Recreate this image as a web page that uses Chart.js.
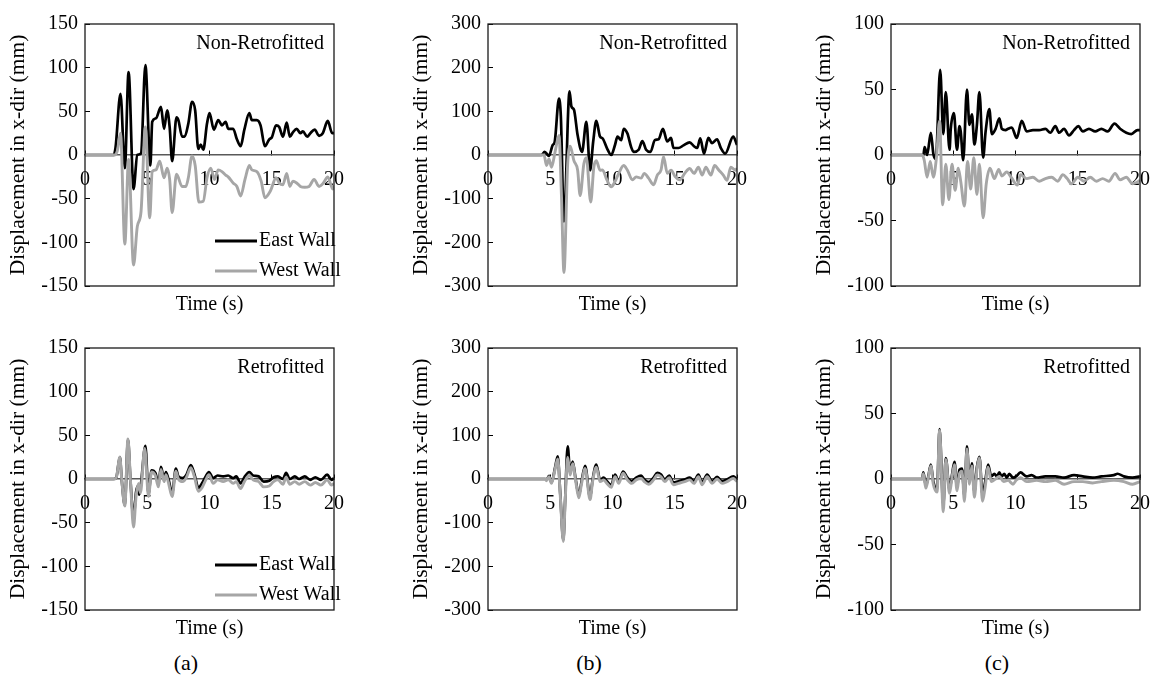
<!DOCTYPE html>
<html>
<head>
<meta charset="utf-8">
<script src="https://cdn.jsdelivr.net/npm/chart.js@4.4.1/dist/chart.umd.min.js"></script>
<style>
  body { margin: 0; background: #fff; }
  .wrap { position: relative; width: 1174px; height: 679px; overflow: hidden; font-family: "Liberation Serif", "Times New Roman", serif; }
  canvas { position: absolute; }
  .cap { position: absolute; top: 650px; width: 60px; font-size: 22px; line-height: 26px; text-align: center; color: #000; }
</style>
</head>
<body>
<div class="wrap">
  <canvas id="aTop" width="362" height="320" style="left:0px;top:0px"></canvas>
  <canvas id="bTop" width="362" height="320" style="left:403px;top:0px"></canvas>
  <canvas id="cTop" width="362" height="320" style="left:806px;top:0px"></canvas>
  <canvas id="aBot" width="362" height="320" style="left:0px;top:324px"></canvas>
  <canvas id="bBot" width="362" height="320" style="left:403px;top:324px"></canvas>
  <canvas id="cBot" width="362" height="320" style="left:806px;top:324px"></canvas>
  <div class="cap" style="left:156px">(a)</div>
  <div class="cap" style="left:559px">(b)</div>
  <div class="cap" style="left:967px">(c)</div>
</div>
<script>
// [time (s), displacement (mm)]
const aNonEast = [[0,0],[2.3,0],[2.45,8],[2.85,70],[3.2,-15],[3.5,95],[3.9,-39],[4.2,0],[4.5,2],[4.85,103],[5.25,-12],[5.4,38],[5.7,42],[6.1,55],[6.35,30],[6.6,51],[6.8,32],[7.0,-7],[7.35,43],[7.5,40],[7.8,21],[8.0,21],[8.3,36],[8.6,61],[8.85,51],[9.1,7],[9.3,12],[9.5,6],[9.8,36],[10.0,48],[10.35,29],[10.7,40],[11.0,34],[11.3,38],[11.5,30],[11.9,30],[12.2,18],[12.5,10],[12.8,29],[13.2,48],[13.4,40],[13.8,40],[14.1,34],[14.45,10],[14.8,18],[15.0,20],[15.35,34],[15.6,32],[15.9,21],[16.2,37],[16.45,21],[16.7,26],[17.0,30],[17.3,25],[17.5,27],[17.85,21],[18.1,25],[18.45,29],[18.8,22],[19.1,25],[19.5,39],[19.85,25],[20,25]];
const aNonWest = [[0,0],[2.4,0],[2.6,5],[2.85,25],[3.2,-102],[3.5,-5],[3.9,-126],[4.2,-82],[4.5,-65],[4.85,32],[5.2,-72],[5.4,-19],[5.7,-17],[6.0,-7],[6.35,-26],[6.6,-15],[6.8,-28],[7.0,-66],[7.35,-22],[7.8,-36],[8.1,-36],[8.3,-26],[8.6,-1],[8.85,-12],[9.15,-54],[9.5,-53],[9.8,-26],[10.1,-15],[10.4,-28],[10.7,-17],[11.0,-19],[11.3,-23],[11.5,-25],[11.9,-32],[12.2,-36],[12.5,-47],[12.85,-28],[13.2,-12],[13.4,-17],[13.8,-19],[14.15,-30],[14.45,-49],[14.9,-41],[15.35,-26],[15.6,-32],[15.9,-34],[16.2,-21],[16.45,-36],[16.7,-30],[17.0,-32],[17.3,-36],[17.65,-37],[18.0,-36],[18.4,-28],[18.8,-36],[19.15,-32],[19.5,-25],[19.9,-39],[20,-35]];
const bNonEast = [[0,0],[4.3,0],[4.55,7],[4.9,-2],[5.2,23],[5.35,29],[5.7,129],[5.85,89],[6.1,-152],[6.55,146],[6.7,111],[6.9,104],[7.2,45],[7.55,7],[7.9,76],[8.2,-35],[8.45,31],[8.7,78],[9.0,42],[9.2,38],[9.55,16],[9.9,0],[10.2,23],[10.4,42],[10.7,34],[10.9,60],[11.2,49],[11.5,18],[11.7,7],[12.1,12],[12.4,32],[12.7,12],[13.05,7],[13.4,34],[13.7,36],[14.05,60],[14.4,31],[14.7,39],[14.9,16],[15.3,16],[15.7,22],[16.2,29],[16.55,20],[16.8,16],[17.05,38],[17.35,3],[17.7,39],[18.0,27],[18.4,36],[18.7,16],[19.05,3],[19.7,42],[20,23]];
const bNonWest = [[0,0],[4.5,0],[4.7,-24],[4.9,-9],[5.1,-28],[5.4,9],[5.7,45],[5.9,-93],[6.1,-269],[6.4,-20],[6.6,20],[6.9,-13],[7.2,-35],[7.4,-93],[7.7,-20],[7.9,-6],[8.25,-108],[8.5,-28],[8.7,-13],[9.0,-35],[9.2,-34],[9.55,-57],[9.9,-73],[10.2,-61],[10.5,-42],[10.9,-24],[11.2,-35],[11.6,-57],[11.9,-50],[12.3,-53],[12.55,-42],[12.9,-53],[13.3,-68],[13.6,-46],[13.9,-34],[14.1,-4],[14.4,-42],[14.7,-35],[15.05,-50],[15.4,-57],[15.8,-42],[16.2,-31],[16.55,-42],[16.9,-28],[17.2,-46],[17.5,-28],[17.9,-46],[18.2,-24],[18.55,-35],[18.9,-46],[19.2,-58],[19.5,-28],[19.9,-35],[20,-30]];
const cNonEast = [[0,0],[2.6,0],[2.7,6],[2.9,0],[3.2,17],[3.4,1],[3.6,-3],[3.95,65],[4.2,16],[4.4,48],[4.7,4],[4.8,20],[5.05,32],[5.3,4],[5.5,22],[5.6,18],[5.8,-4],[6.1,50],[6.3,23],[6.5,31],[6.7,8],[6.9,23],[7.1,48],[7.4,-2],[7.6,18],[7.9,35],[8.1,16],[8.4,20],[8.7,28],[8.9,20],[9.2,19],[9.4,20],[9.7,21],[10.1,13],[10.5,26],[10.9,18],[11.4,19],[11.9,19],[12.4,20],[12.8,17],[13.2,22],[13.5,17],[13.9,20],[14.3,15],[14.7,19],[15.05,22],[15.4,18],[15.9,20],[16.4,18],[16.9,20],[17.4,18],[17.95,24],[18.4,20],[18.9,17],[19.3,16],[19.8,19],[20,19]];
const cNonWest = [[0,0],[2.5,0],[2.67,-4],[2.9,-17],[3.15,-5],[3.4,-17],[3.65,-2],[3.9,26],[4.15,-38],[4.4,-7],[4.65,-34],[4.9,-7],[5.15,-27],[5.4,-10],[5.6,-20],[5.9,-39],[6.15,-5],[6.4,-26],[6.65,-2],[6.9,-30],[7.1,-7],[7.4,-48],[7.65,-22],[7.95,-10],[8.3,-18],[8.65,-11],[8.9,-16],[9.3,-13],[9.65,-17],[10.15,-23],[10.4,-15],[10.9,-18],[11.4,-17],[11.9,-20],[12.4,-18],[12.9,-17],[13.4,-20],[13.8,-15],[14.15,-18],[14.5,-22],[15.0,-17],[15.5,-20],[16.0,-17],[16.5,-20],[17.0,-18],[17.5,-20],[18.0,-14],[18.4,-19],[18.9,-17],[19.4,-22],[19.9,-20],[20,-19]];

const aRetEast = [[0,0],[2.3,0],[2.5,1],[2.8,25],[2.95,-1],[3.2,-30],[3.45,45],[3.65,-1],[3.9,-45],[4.1,-15],[4.25,-8],[4.35,-18],[4.5,-5],[4.85,38],[5.1,-17],[5.35,10],[5.65,7],[5.9,-5],[6.1,14],[6.35,0],[6.5,8],[6.7,0],[7.0,-16],[7.3,12],[7.5,3],[7.85,1],[8.15,5],[8.5,16],[8.8,5],[9.1,-10],[9.4,-5],[9.7,3],[9.95,8],[10.3,1],[10.65,4],[11.1,3],[11.5,4],[11.9,1],[12.15,3],[12.5,-5],[12.8,2],[13.2,8],[13.5,4],[13.95,3],[14.35,-3],[14.8,-2],[15.15,2],[15.5,3],[15.9,0],[16.15,7],[16.45,0],[16.85,3],[17.2,0],[17.65,3],[18.1,-1],[18.5,2],[18.95,-1],[19.45,5],[19.8,-1],[20,1]];
const aRetWest = [[0,0],[2.3,0],[2.5,1],[2.8,25],[2.95,-1],[3.2,-31],[3.45,46],[3.65,-1],[3.9,-55],[4.1,-20],[4.3,-5],[4.45,-16],[4.8,35],[5.1,-20],[5.35,8],[5.65,4],[5.9,-9],[6.1,11],[6.35,-3],[6.5,5],[6.7,-4],[7.0,-20],[7.3,9],[7.5,0],[7.85,-3],[8.15,2],[8.5,13],[8.8,2],[9.1,-14],[9.4,-10],[9.7,-1],[9.95,5],[10.3,-5],[10.65,-1],[11.1,-3],[11.5,-1],[11.9,-5],[12.15,-3],[12.5,-11],[12.8,-3],[13.2,4],[13.5,-1],[13.95,-3],[14.35,-9],[14.8,-8],[15.15,-3],[15.5,-1],[15.9,-6],[16.15,2],[16.45,-6],[16.85,-3],[17.2,-6],[17.65,-3],[18.1,-7],[18.5,-4],[18.95,-7],[19.45,-1],[19.8,-7],[20,-5]];
const bRetEast = [[0,0],[4.6,0],[4.7,-2],[4.9,7],[5.1,-8],[5.4,28],[5.6,52],[5.8,-32],[6.05,-140],[6.2,-45],[6.4,75],[6.6,15],[6.8,40],[7.05,-2],[7.3,-38],[7.5,-8],[7.8,30],[8.2,-42],[8.4,-2],[8.7,33],[9.0,-2],[9.3,3],[9.55,-5],[9.9,-14],[10.2,10],[10.5,-5],[10.85,17],[11.2,3],[11.55,-5],[11.9,3],[12.3,8],[12.55,-1],[12.9,-7],[13.3,3],[13.6,14],[13.9,10],[14.2,-1],[14.55,8],[14.9,-8],[15.3,-5],[15.8,-1],[16.2,3],[16.55,-5],[16.9,10],[17.2,-8],[17.6,10],[18.0,-5],[18.4,5],[18.8,-5],[19.2,-1],[19.7,6],[20,0]];
const bRetWest = [[0,0],[4.6,0],[4.7,-4],[4.9,5],[5.1,-10],[5.4,24],[5.6,46],[5.8,-36],[6.05,-143],[6.2,-50],[6.4,50],[6.6,9],[6.8,35],[7.05,-6],[7.3,-43],[7.5,-13],[7.8,24],[8.2,-47],[8.4,-6],[8.7,27],[9.0,-6],[9.3,-2],[9.55,-10],[9.9,-19],[10.2,5],[10.5,-10],[10.85,13],[11.2,-2],[11.55,-10],[11.9,-2],[12.3,1],[12.55,-6],[12.9,-12],[13.3,-2],[13.6,9],[13.9,5],[14.2,-6],[14.55,3],[14.9,-13],[15.3,-10],[15.8,-6],[16.2,-2],[16.55,-10],[16.9,5],[17.2,-13],[17.6,5],[18.0,-10],[18.4,0],[18.8,-10],[19.2,-6],[19.7,1],[20,-6]];
const cRetEast = [[0,0],[2.5,0],[2.6,5],[2.8,-5],[3.0,2],[3.2,11],[3.4,-2],[3.7,-8],[3.9,38],[4.2,-20],[4.4,16],[4.7,-8],[4.9,3],[5.1,13],[5.3,-6],[5.5,7],[5.7,8],[5.9,-13],[6.1,25],[6.3,-1],[6.5,12],[6.7,-10],[6.9,9],[7.1,17],[7.35,-12],[7.55,-3],[7.8,11],[8.05,2],[8.3,4],[8.5,2],[8.7,5],[8.9,2],[9.1,4],[9.3,1],[9.5,4],[9.8,1],[10.05,2],[10.4,5],[10.9,2],[11.3,3],[11.7,1],[12.4,2],[13.2,2],[13.9,1],[14.7,3],[15.4,2],[16.2,1],[16.9,2],[17.9,3],[18.2,4],[18.7,2],[19.4,1],[20,2]];
const cRetWest = [[0,0],[2.5,0],[2.6,4],[2.8,-7],[3.0,1],[3.2,10],[3.4,-4],[3.7,-10],[3.9,37],[4.2,-25],[4.4,15],[4.7,-11],[4.9,1],[5.1,11],[5.3,-9],[5.5,4],[5.7,6],[5.9,-17],[6.1,23],[6.3,-4],[6.5,10],[6.7,-14],[6.9,7],[7.1,16],[7.35,-17],[7.55,-7],[7.8,9],[8.05,-2],[8.4,0],[8.7,2],[9.05,-2],[9.4,-1],[9.8,-4],[10.05,-1],[10.4,1],[10.9,-2],[11.7,-1],[12.4,-2],[13.2,-1],[13.9,-4],[14.7,-2],[15.4,-2],[16.2,-3],[16.9,-2],[17.9,-1],[18.7,-2],[19.4,-4],[20,-2]];

const xTicks = [0, 5, 10, 15, 20];
const seriesNames = ["East Wall", "West Wall"];
const eastColor = "#000000";
const westColor = "#a6a6a6";
const serif = "'Liberation Serif', 'Times New Roman', serif";

const toXY = (pairs) => pairs.map(([x, y]) => ({ x, y }));

// box, corner label and the little legend inside the plot
const panelText = {
  id: "panelText",
  afterDraw(chart, args, opts) {
    const { ctx, chartArea: a } = chart;
    ctx.save();
    ctx.strokeStyle = "#1a1a1a";
    ctx.lineWidth = 1.3;
    ctx.strokeRect(a.left, a.top, a.right - a.left, a.bottom - a.top);
    ctx.fillStyle = "#000";
    ctx.font = "20px " + serif;
    ctx.textBaseline = "middle";
    ctx.textAlign = "right";
    ctx.fillText(opts.label, a.right - 10, a.top + 20);
    if (opts.legend) {
      ctx.textAlign = "left";
      [eastColor, westColor].forEach((c, i) => {
        const y = a.top + 217 + i * 30;
        ctx.strokeStyle = c;
        ctx.lineWidth = 2.8;
        ctx.beginPath();
        ctx.moveTo(a.left + 130, y);
        ctx.lineTo(a.left + 172, y);
        ctx.stroke();
        ctx.fillText(seriesNames[i], a.left + 174, y);
      });
    }
    ctx.restore();
  },
};

const makePanel = function (id, east, west, yMax, step, label, legend) {
  const font = { family: serif, size: 20 };
  new Chart(document.getElementById(id), {
    type: "line",
    data: {
      datasets: [
        {
          label: seriesNames[1],
          data: toXY(west),
          xAxisID: "x",
          borderColor: westColor,
          borderWidth: 2.9,
          pointRadius: 0,
          cubicInterpolationMode: "monotone",
        },
        {
          label: seriesNames[0],
          data: toXY(east),
          xAxisID: "x",
          borderColor: eastColor,
          borderWidth: 2.7,
          pointRadius: 0,
          cubicInterpolationMode: "monotone",
        },
      ],
    },
    options: {
      responsive: false,
      animation: false,
      layout: { padding: { top: 15, right: 10, left: 0, bottom: 0 } },
      plugins: {
        legend: { display: false },
        tooltip: { enabled: false },
        panelText: { label, legend },
      },
      scales: {
        x: {
          type: "linear",
          position: { y: 0 },
          min: 0,
          max: 20,
          afterBuildTicks: (s) => {
            s.ticks = xTicks.map((v) => ({ value: v }));
          },
          ticks: { padding: 18, color: "#000", font },
          grid: { drawOnChartArea: false, tickLength: -5, color: "#000" },
          border: { color: "#595959", width: 1.5 },
        },
        xb: {
          type: "linear",
          axis: "x",
          position: "bottom",
          min: 0,
          max: 20,
          ticks: { display: false },
          grid: { display: false },
          border: { display: false },
          title: { display: true, text: "Time (s)", color: "#000", font, padding: { top: 0, bottom: 3 } },
          afterFit: (s) => {
            s.height = 34;
          },
        },
        y: {
          min: -yMax,
          max: yMax,
          ticks: { stepSize: step, padding: 12, color: "#000", font },
          grid: { drawOnChartArea: false, tickLength: -5, color: "#000" },
          border: { display: false },
          title: {
            display: true,
            text: "Displacement in x-dir (mm)",
            color: "#000",
            font: { family: serif, size: 21.5 },
            padding: { top: 5, bottom: 0 },
          },
          afterFit: (s) => {
            s.width = 85;
          },
        },
      },
    },
    plugins: [panelText],
  });
};

makePanel("aTop", aNonEast, aNonWest, 150, 50, "Non-Retrofitted", true);
makePanel("bTop", bNonEast, bNonWest, 300, 100, "Non-Retrofitted", false);
makePanel("cTop", cNonEast, cNonWest, 100, 50, "Non-Retrofitted", false);
makePanel("aBot", aRetEast, aRetWest, 150, 50, "Retrofitted", true);
makePanel("bBot", bRetEast, bRetWest, 300, 100, "Retrofitted", false);
makePanel("cBot", cRetEast, cRetWest, 100, 50, "Retrofitted", false);
</script>
</body>
</html>
